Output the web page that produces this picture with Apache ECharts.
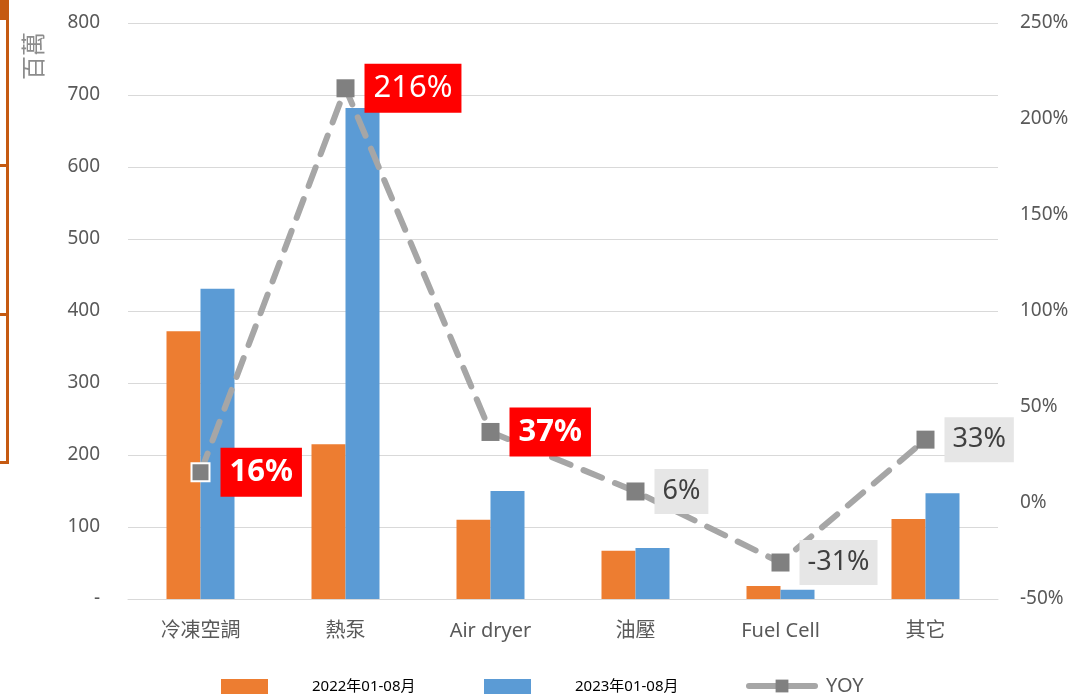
<!DOCTYPE html>
<html>
<head>
<meta charset="utf-8">
<script src="https://cdn.jsdelivr.net/npm/echarts@6/dist/echarts.min.js"></script>
<style>
html,body{margin:0;padding:0;background:#fff;}
#main{width:1074px;height:694px;}
</style>
</head>
<body>
<div id="main"></div>
<script>
// 類別與數值
var categories = ["冷凍空調", "熱泵", "Air dryer", "油壓", "Fuel Cell", "其它"];
var sales2022 = [372, 215, 110, 67, 18, 111];
var sales2023 = [431, 682, 150, 71, 13, 147];
var yoy = [0.16, 2.16, 0.37, 0.06, -0.31, 0.33];
var yoyHighlight = [true, true, true, false, false, false];
var yoyBold = [true, false, true, false, false, false];

var FONT = "'Noto Sans', 'Noto Sans CJK TC', sans-serif";

var yoyData = yoy.map(function(v, i){
	var item = {value: v};
	if (yoyHighlight[i]) {
		item.label = {
			backgroundColor: "#ff0000",
			color: "#ffffff",
			fontSize: 31,
			fontWeight: yoyBold[i] ? "bold" : "normal",
			padding: [9, 9, 9, 9]
		};
	}
	if (i == 0) {
		item.itemStyle = {borderColor: "#ffffff", borderWidth: 2};
	}
	return item;
});

var myChart = echarts.init(document.getElementById("main"));
var option = {
	animation: false,
	textStyle: {fontFamily: FONT},
	grid: {left: 128, right: 76, top: 23, bottom: 95},
	legend: [
		{
			data: ["2022年01-08月"], left: 221, top: 679, padding: 0,
			itemWidth: 47, itemHeight: 16, icon: "rect",
			textStyle: {fontSize: 15, color: "#000", padding: [0, 0, 0, 39]}
		},
		{
			data: ["2023年01-08月"], left: 484, top: 679, padding: 0,
			itemWidth: 47, itemHeight: 16, icon: "rect",
			textStyle: {fontSize: 15, color: "#000", padding: [0, 0, 0, 39]}
		},
		{
			data: ["YOY"], left: 746, top: 676, padding: 0,
			itemWidth: 66, itemHeight: 16,
			lineStyle: {width: 6, color: "#a6a6a6", type: "solid", cap: "round"},
			textStyle: {fontSize: 20, color: "#595959", padding: [0, 0, 0, 6]}
		}
	],
	xAxis: {
		type: "category",
		data: categories,
		axisLine: {lineStyle: {color: "#d9d9d9", width: 1}},
		axisTick: {show: false},
		axisLabel: {fontSize: 20, color: "#595959", margin: 22}
	},
	yAxis: [
		{
			type: "value", min: 0, max: 800, interval: 100,
			axisLine: {show: false}, axisTick: {show: false},
			splitLine: {lineStyle: {color: "#d9d9d9"}},
			axisLabel: {
				fontSize: 19, color: "#595959", margin: 28,
				formatter: function(v){ return v == 0 ? "-" : v; }
			}
		},
		{
			type: "value", min: -0.5, max: 2.5, interval: 0.5,
			axisLine: {show: false}, axisTick: {show: false},
			splitLine: {show: false},
			axisLabel: {
				fontSize: 19, color: "#595959", margin: 22,
				formatter: function(v){ return Math.round(v * 100) + "%"; }
			}
		}
	],
	series: [
		{
			name: "2022年01-08月", type: "bar", data: sales2022,
			barWidth: 34, barGap: "0%",
			itemStyle: {color: "#ed7d31"}
		},
		{
			name: "2023年01-08月", type: "bar", data: sales2023,
			barWidth: 34,
			itemStyle: {color: "#5b9bd5"}
		},
		{
			name: "YOY", type: "line", yAxisIndex: 1, data: yoyData,
			symbol: "rect", symbolSize: 18,
			itemStyle: {color: "#808080"},
			lineStyle: {color: "#a6a6a6", width: 6, type: [20, 14], cap: "round"},
			z: 5,
			label: {
				show: true, position: "right", distance: 10,
				fontSize: 27, color: "#404040",
				backgroundColor: "#e6e6e6",
				padding: [9, 8, 9, 8],
				formatter: function(p){ return Math.round(p.value * 100) + "%"; }
			}
		}
	],
	graphic: [
		{
			type: "text", x: 33, y: 56, rotation: Math.PI / 2,
			style: {text: "百萬", font: "24px 'Noto Sans CJK TC'", fill: "#8c8c8c", align: "center", verticalAlign: "middle"}
		},
		{type: "rect", shape: {x: 0, y: 0, width: 8, height: 17}, style: {fill: "#c55a11"}},
		{type: "rect", shape: {x: 6, y: 0, width: 3, height: 464}, style: {fill: "#c55a11"}},
		{type: "rect", shape: {x: 0, y: 17, width: 8, height: 3}, style: {fill: "#c55a11"}},
		{type: "rect", shape: {x: 0, y: 164, width: 8, height: 3}, style: {fill: "#c55a11"}},
		{type: "rect", shape: {x: 0, y: 313, width: 8, height: 3}, style: {fill: "#c55a11"}},
		{type: "rect", shape: {x: 0, y: 461, width: 8, height: 3}, style: {fill: "#c55a11"}}
	]
};
myChart.setOption(option);
</script>
</body>
</html>
